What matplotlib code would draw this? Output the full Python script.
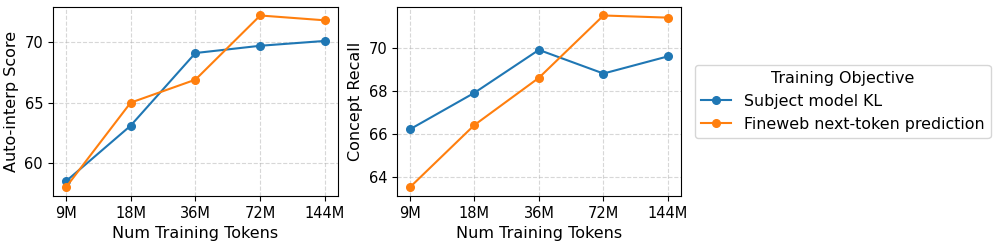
import matplotlib
matplotlib.use("Agg")
import matplotlib.pyplot as plt

tokens = ["9M", "18M", "36M", "72M", "144M"]

# auto-interp score
autointerp_kl = [58.5, 63.1, 69.1, 69.7, 70.1]
autointerp_fw = [58.0, 65.0, 66.9, 72.2, 71.8]

# concept recall
recall_kl = [66.2, 67.9, 69.9, 68.8, 69.6]
recall_fw = [63.5, 66.4, 68.6, 71.5, 71.4]

labels = ["Subject model KL", "Fineweb next-token prediction"]

fig = plt.figure(figsize=(9.97, 2.46), dpi=100)
ax1 = fig.add_axes([0.053, 0.203, 0.286, 0.769])
ax2 = fig.add_axes([0.398, 0.203, 0.285, 0.769])

x = list(range(len(tokens)))
for ax, kl, fw, ylab in [(ax1, autointerp_kl, autointerp_fw, "Auto-interp Score"),
                         (ax2, recall_kl, recall_fw, "Concept Recall")]:
    ax.plot(x, kl, marker="o", markersize=5.5, color="#1f77b4", label=labels[0])
    ax.plot(x, fw, marker="o", markersize=5.5, color="#ff7f0e", label=labels[1])
    ax.set_xticks(x)
    ax.set_xticklabels(tokens)
    ax.set_xlabel("Num Training Tokens", fontsize=11.5)
    ax.set_ylabel(ylab, fontsize=11.5)
    ax.tick_params(labelsize=10.5)
    ax.grid(True, linestyle="--", alpha=0.5)

ax1.set_yticks([60, 65, 70])
ax2.set_yticks([64, 66, 68, 70])

ax2.legend(title="Training Objective", loc="center left", bbox_to_anchor=(1.02, 0.5),
           fontsize=11.4, title_fontsize=11.4, handlelength=1.9)

fig.savefig("out.png", dpi=100)
